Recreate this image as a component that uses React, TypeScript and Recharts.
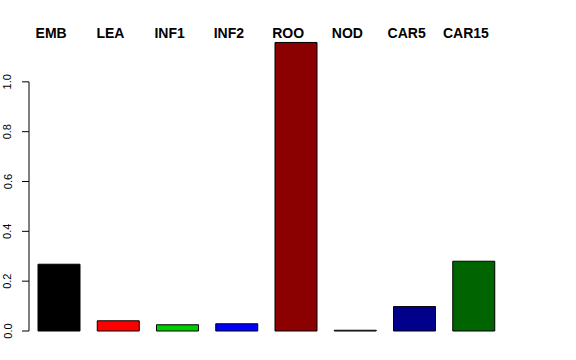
import { BarChart, Bar, XAxis, YAxis, Cell } from "recharts";

const tissues = ["EMB", "LEA", "INF1", "INF2", "ROO", "NOD", "CAR5", "CAR15"];
const values = [0.268, 0.041, 0.025, 0.029, 1.158, 0.003, 0.098, 0.28];
const fills = ["#000000", "#ff0000", "#00cd00", "#0000ff", "#8b0000", "#bebebe", "#00008b", "#006400"];
const yTicks = [0, 0.2, 0.4, 0.6, 0.8, 1.0];

const data = tissues.map((name, i) => ({ name, value: values[i] }));

const FONT = '"Liberation Sans", Arial, Helvetica, sans-serif';
const W = 576;
const H = 360;
const TOP = 32;
const BOTTOM = 29;
const AXIS_X = 29;
const Y_MAX = 1.2;
const STEP = ((H - TOP - BOTTOM) * 0.2) / Y_MAX;

function YTick(p: any) {
  const v = p.payload.value;
  const y = p.y;
  return (
    <g>
      <line x1={AXIS_X - 7} x2={AXIS_X} y1={y} y2={y} stroke="#000" />
      {v < 1 && <line x1={AXIS_X} x2={AXIS_X} y1={y} y2={y - STEP} stroke="#000" />}
      <text
        x={11.5}
        y={y}
        transform={`rotate(-90, 11.5, ${y})`}
        textAnchor="middle"
        fontSize={11}
        fontFamily={FONT}
        fill="#000"
      >
        {v.toFixed(1)}
      </text>
    </g>
  );
}

function XTick(p: any) {
  return (
    <text
      x={p.x - 7.5}
      y={38}
      textAnchor="middle"
      fontSize={14}
      fontWeight="bold"
      fontFamily={FONT}
      fill="#000"
    >
      {p.payload.value}
    </text>
  );
}

export default function App() {
  return (
    <div style={{ position: "absolute", left: 0, top: 0, width: W, height: H, background: "#fff" }}>
      <BarChart width={W} height={H} data={data} margin={{ top: 0, right: 73, bottom: BOTTOM, left: 0 }}>
        <XAxis
          dataKey="name"
          orientation="top"
          height={TOP}
          axisLine={false}
          tickLine={false}
          interval={0}
          tick={XTick}
        />
        <YAxis
          width={AXIS_X}
          domain={[0, Y_MAX]}
          ticks={yTicks}
          axisLine={false}
          tickLine={false}
          tick={YTick}
        />
        <Bar dataKey="value" barSize={42} stroke="#000" strokeWidth={1} isAnimationActive={false}>
          {data.map((d, i) => (
            <Cell key={d.name} fill={fills[i]} />
          ))}
        </Bar>
      </BarChart>
    </div>
  );
}
